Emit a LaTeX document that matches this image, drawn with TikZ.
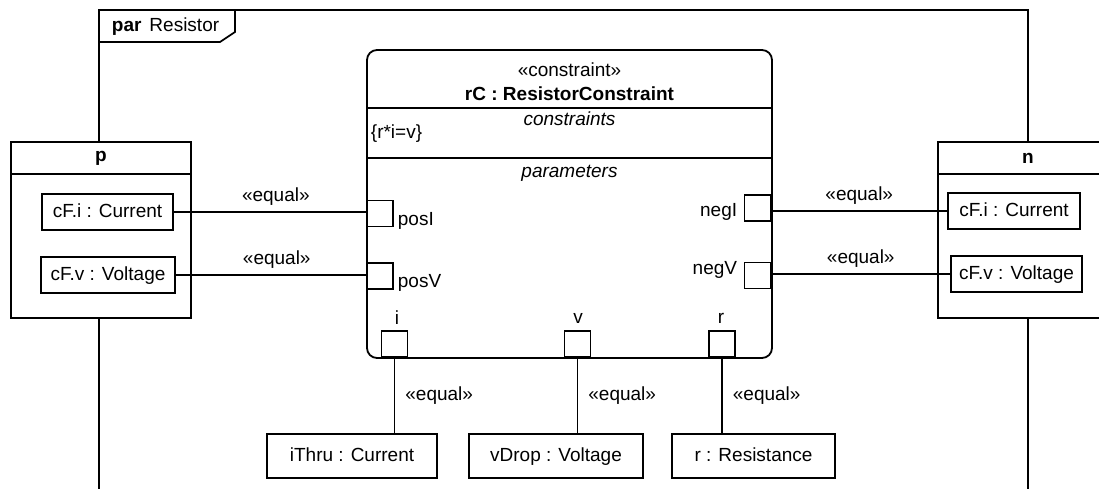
\documentclass[tikz,border=0pt]{standalone}
\usepackage{fontspec}
\setmainfont{Liberation Sans}
\usetikzlibrary{positioning}
\begin{document}
\begin{tikzpicture}[x=1pt, y=-1pt, line width=1.8pt,
    every node/.style={font=\fontsize{19}{22}\selectfont},
    hd/.style={font=\fontsize{19}{22}\selectfont\bfseries},
    it/.style={font=\fontsize{19}{22}\selectfont\itshape},
    box/.style={draw, fill=white, inner sep=0pt, outer sep=0pt, text height=14pt, text depth=4pt},
    port/.style={draw, fill=white, inner sep=0pt, outer sep=0pt, minimum size=26pt},
    lbl/.style={inner sep=0pt}]
    \useasboundingbox (0,0) rectangle (1099,489);
    \clip (0,0) rectangle (1099,489);

    \draw (99,500) -- (99,10) -- (1028,10) -- (1028,500);
    \draw (99,42) -- (220,42) -- (235,32) -- (235,10);
    \node[lbl, anchor=west] (title) at (111,27) {\textbf{par}\hspace{8pt}Resistor};

    \node[box, minimum width=180, minimum height=176] (p) at (101,230) {};
    \draw ([yshift=-32pt]p.north west) -- ([yshift=-32pt]p.north east);
    \node[lbl, hd] (pname) at ([yshift=-16pt]p.north) {p};
    \node[box, minimum width=131, minimum height=36] (pI) at (107.5,212) {cF.i : Current};
    \node[box, minimum width=134, minimum height=36] (pV) at (108,275) {cF.v : Voltage};

    \node[box, minimum width=180, minimum height=176] (n) at (1028,230) {};
    \draw ([yshift=-32pt]n.north west) -- ([yshift=-32pt]n.north east);
    \node[lbl, hd] (nname) at ([yshift=-16pt]n.north) {n};
    \node[box, minimum width=132, minimum height=36] (nI) at (1014,211) {cF.i : Current};
    \node[box, minimum width=131, minimum height=36] (nV) at (1016.5,274) {cF.v : Voltage};

    \node[box, rounded corners=10pt, minimum width=405, minimum height=308] (rC) at (569.5,204) {};
    \draw (rC.west |- 0,108) -- (rC.east |- 0,108);
    \draw (rC.west |- 0,158) -- (rC.east |- 0,158);
    \node[lbl] (stereo) at (569.5,70) {«constraint»};
    \node[lbl, hd] (rCname) at (569.5,94) {rC : ResistorConstraint};
    \node[lbl, it] (cons) at (569.5,119) {constraints};
    \node[lbl, anchor=west] (rule) at (370,134) {\{r*i=v\}};
    \node[lbl, it] (params) at (569.5,173) {parameters};

    \node[port] (posI) at (380,213.5) {};
    \node[lbl, anchor=west] (posIl) at (397,221) {posI};
    \node[port] (posV) at (380,276) {};
    \node[lbl, anchor=west] (posVl) at (397,283) {posV};
    \node[port] (negI) at (757.5,208) {};
    \node[lbl, anchor=east] (negIl) at (738,212) {negI};
    \node[port] (negV) at (757.5,275.5) {};
    \node[lbl, anchor=east] (negVl) at (738,270) {negV};
    \node[port] (iP) at (394.5,344) {};
    \node[lbl] (iPl) at (397,318) {i};
    \node[port] (vP) at (577.5,344) {};
    \node[lbl] (vPl) at (578,318) {v};
    \node[port] (rP) at (722,344) {};
    \node[lbl] (rPl) at (721,318) {r};

    \node[box, minimum width=170, minimum height=44] (iThru) at (352,456) {iThru : Current};
    \node[box, minimum width=174, minimum height=44] (vDrop) at (556,456) {vDrop : Voltage};
    \node[box, minimum width=163, minimum height=44] (res) at (753.5,456) {r : Resistance};

    \draw (pI.east) -- (pI.east -| posI.west) node[lbl, pos=0.53, above=6pt] {«equal»};
    \draw (pV.east) -- (pV.east -| posV.west) node[lbl, pos=0.53, above=6pt] {«equal»};
    \draw (negI.east |- nI.west) -- (nI.west) node[lbl, midway, above=6pt] {«equal»};
    \draw (negV.east |- nV.west) -- (nV.west) node[lbl, midway, above=6pt] {«equal»};
    \draw (iP.south) -- (iP.south |- iThru.north) node[lbl, midway, right=10pt] {«equal»};
    \draw (vP.south) -- (vP.south |- vDrop.north) node[lbl, midway, right=10pt] {«equal»};
    \draw (rP.south) -- (rP.south |- res.north) node[lbl, midway, right=10pt] {«equal»};
\end{tikzpicture}
\end{document}
